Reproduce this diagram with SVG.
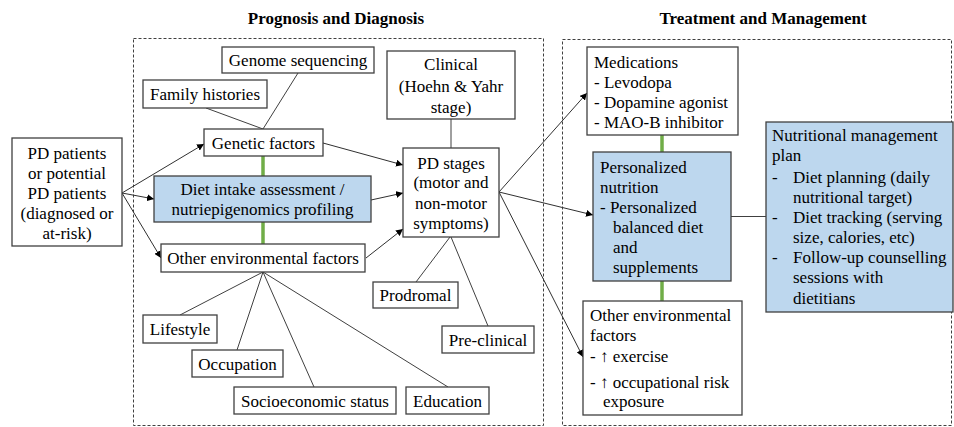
<svg xmlns="http://www.w3.org/2000/svg" width="954" height="427" viewBox="0 0 954 427">
<style>
text{font-family:"Liberation Serif","Times New Roman",serif;font-size:17px;fill:#000}
.t{font-weight:bold}
.c{text-anchor:middle}
.box{fill:#fff;stroke:#404040;stroke-width:1.3}
.blue{fill:#bdd7ee;stroke:#404040;stroke-width:1.3}
.dash{fill:none;stroke:#404040;stroke-width:1;stroke-dasharray:3 2}
.ln{stroke:#404040;stroke-width:1;fill:none}
.ar{stroke:#303030;stroke-width:1;fill:none;marker-end:url(#ah)}
.g{stroke:#70ad47;stroke-width:3.5}
</style>
<defs>
<marker id="ah" viewBox="0 0 10 10" refX="10" refY="5" markerWidth="7" markerHeight="7" markerUnits="userSpaceOnUse" orient="auto">
<path d="M0,0 L10,5 L0,10 z" fill="#000"/>
</marker>
</defs>
<rect width="954" height="427" fill="#fff"/>
<text class="t c" x="336" y="24">Prognosis and Diagnosis</text>
<text class="t c" x="763" y="24">Treatment and Management</text>
<rect class="dash" x="133.5" y="38.5" width="410" height="387"/>
<rect class="dash" x="562.5" y="39.5" width="389" height="386"/>

<g id="connectors">
<line class="ln" x1="206" y1="108" x2="263" y2="129"/>
<line class="ln" x1="298" y1="73" x2="263" y2="129"/>
<line class="g" x1="263" y1="156" x2="263" y2="176"/>
<line class="g" x1="263" y1="222" x2="263" y2="244"/>
<line class="ln" x1="263" y1="272" x2="180" y2="315"/>
<line class="ln" x1="263" y1="272" x2="237" y2="350"/>
<line class="ln" x1="263" y1="272" x2="314" y2="387"/>
<line class="ln" x1="263" y1="272" x2="448" y2="387"/>
<line class="ln" x1="451" y1="119" x2="451" y2="148"/>
<line class="ln" x1="450" y1="237" x2="416" y2="282"/>
<line class="ln" x1="451" y1="237" x2="488" y2="326"/>
<line class="ar" x1="122" y1="193" x2="204" y2="144"/>
<line class="ar" x1="122" y1="193" x2="154" y2="199"/>
<line class="ar" x1="122" y1="193" x2="161" y2="258"/>
<line class="ar" x1="323" y1="143" x2="403" y2="165"/>
<line class="ar" x1="371" y1="200" x2="403" y2="193"/>
<line class="ar" x1="366" y1="258" x2="403" y2="229"/>
<line class="ar" x1="499" y1="192" x2="587" y2="93"/>
<line class="ar" x1="499" y1="192" x2="593" y2="215"/>
<line class="ar" x1="499" y1="192" x2="583" y2="357"/>
<line class="g" x1="662" y1="135" x2="662" y2="152"/>
<line class="g" x1="662" y1="281" x2="662" y2="301"/>
<line class="ln" x1="731" y1="216.5" x2="766" y2="216.5"/>
</g>

<g id="pd-patients">
<rect class="box" x="12" y="138" width="110" height="108"/>
<text class="c" x="67" y="159">PD patients</text>
<text class="c" x="67" y="179">or potential</text>
<text class="c" x="67" y="199">PD patients</text>
<text class="c" x="67" y="219">(diagnosed or</text>
<text class="c" x="67" y="239">at-risk)</text>
</g>
<g id="genome">
<rect class="box" x="222" y="47" width="152" height="26"/>
<text class="c" x="298" y="66">Genome sequencing</text>
</g>
<g id="family">
<rect class="box" x="143" y="80" width="124" height="28"/>
<text class="c" x="205" y="100">Family histories</text>
</g>
<g id="genetic">
<rect class="box" x="204" y="129" width="119" height="27"/>
<text class="c" x="263.5" y="149">Genetic factors</text>
</g>
<g id="diet">
<rect class="blue" x="154" y="176" width="217" height="46"/>
<text class="c" x="262.5" y="195">Diet intake assessment /</text>
<text class="c" x="262.5" y="215">nutriepigenomics profiling</text>
</g>
<g id="other-env">
<rect class="box" x="161" y="244" width="204" height="28"/>
<text class="c" x="263" y="264">Other environmental factors</text>
</g>
<g id="lifestyle">
<rect class="box" x="143" y="315" width="74" height="28"/>
<text class="c" x="180" y="335">Lifestyle</text>
</g>
<g id="occupation">
<rect class="box" x="192" y="350" width="91" height="27"/>
<text class="c" x="237.5" y="370">Occupation</text>
</g>
<g id="socio">
<rect class="box" x="234" y="387" width="162" height="27"/>
<text class="c" x="315" y="407">Socioeconomic status</text>
</g>
<g id="education">
<rect class="box" x="406" y="387" width="83" height="27"/>
<text class="c" x="447.5" y="407">Education</text>
</g>
<g id="clinical">
<rect class="box" x="387" y="51" width="128" height="68"/>
<text class="c" x="451" y="70">Clinical</text>
<text class="c" x="451" y="92">(Hoehn &amp; Yahr</text>
<text class="c" x="451" y="113">stage)</text>
</g>
<g id="pd-stages">
<rect class="box" x="403" y="148" width="96" height="89"/>
<text class="c" x="451" y="169">PD stages</text>
<text class="c" x="451" y="188">(motor and</text>
<text class="c" x="451" y="209">non-motor</text>
<text class="c" x="451" y="229">symptoms)</text>
</g>
<g id="prodromal">
<rect class="box" x="373" y="282" width="85" height="26"/>
<text class="c" x="415.5" y="301">Prodromal</text>
</g>
<g id="preclinical">
<rect class="box" x="442" y="326" width="92" height="27"/>
<text class="c" x="488" y="346">Pre-clinical</text>
</g>
<g id="medications">
<rect class="box" x="587" y="47" width="151" height="88"/>
<text x="594" y="68">Medications</text>
<text x="594" y="88">- Levodopa</text>
<text x="594" y="108">- Dopamine agonist</text>
<text x="594" y="128">- MAO-B inhibitor</text>
</g>
<g id="personalized">
<rect class="blue" x="593" y="152" width="138" height="129"/>
<text x="600" y="173">Personalized</text>
<text x="600" y="193">nutrition</text>
<text x="600" y="213">- Personalized</text>
<text x="613" y="233">balanced diet</text>
<text x="613" y="253">and</text>
<text x="613" y="273">supplements</text>
</g>
<g id="other-env-r">
<rect class="box" x="583" y="301" width="159" height="114"/>
<text x="590" y="321">Other environmental</text>
<text x="590" y="341">factors</text>
<text x="590" y="362">- ↑ exercise</text>
<text x="590" y="388">- ↑ occupational risk</text>
<text x="603" y="407">exposure</text>
</g>
<g id="nutritional-plan">
<rect class="blue" x="766" y="122" width="187" height="190"/>
<text x="772" y="141">Nutritional management</text>
<text x="772" y="161">plan</text>
<text x="772" y="183">-</text><text x="793" y="183">Diet planning (daily</text>
<text x="793" y="203">nutritional target)</text>
<text x="772" y="223">-</text><text x="793" y="223">Diet tracking (serving</text>
<text x="793" y="243">size, calories, etc)</text>
<text x="772" y="263">-</text><text x="793" y="263">Follow-up counselling</text>
<text x="793" y="283">sessions with</text>
<text x="793" y="304">dietitians</text>
</g>
</svg>
